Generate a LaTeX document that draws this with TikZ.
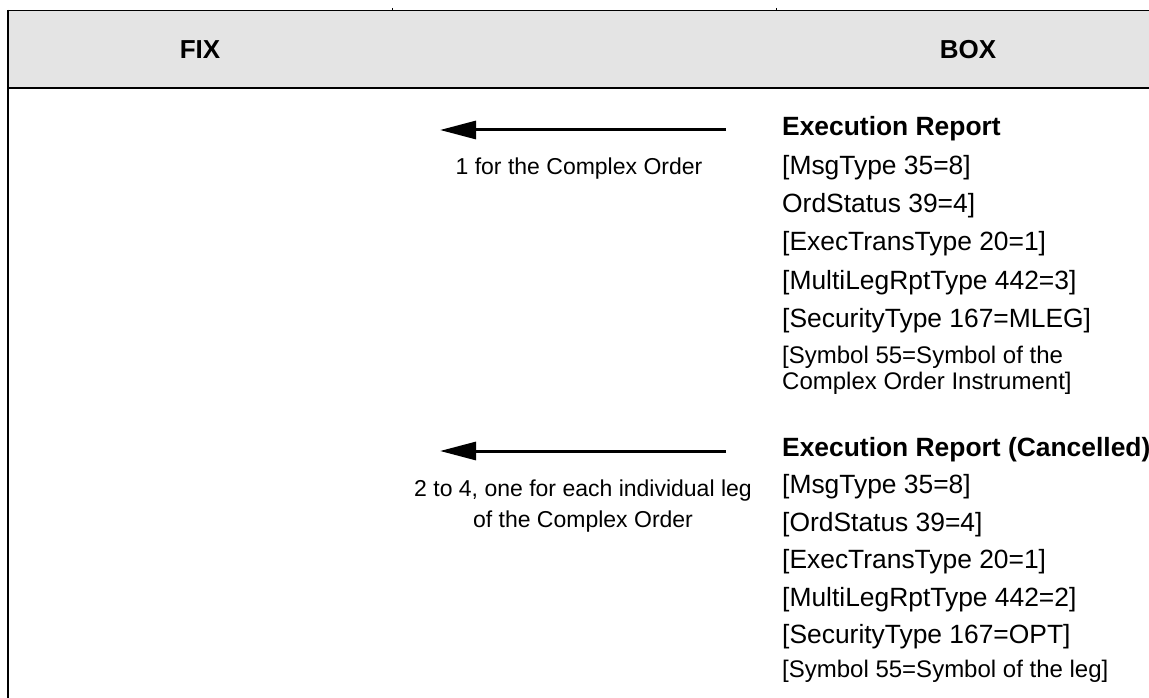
\documentclass[tikz,border=0pt]{standalone}
\usepackage{fontspec}
\setmainfont{Liberation Sans}
\usetikzlibrary{arrows.meta}
\definecolor{headgray}{HTML}{E4E4E4}

\tikzset{
  field/.style={anchor=base west, inner sep=0pt, font=\fontsize{26.4}{30}\selectfont},
  fieldsm/.style={field, font=\fontsize{24}{28}\selectfont},
  msgtitle/.style={field, font=\fontsize{26.4}{30}\selectfont\bfseries},
  colhead/.style={anchor=base, inner sep=0pt, font=\fontsize{26}{30}\selectfont\bfseries},
  note/.style={anchor=base, inner sep=0pt, font=\fontsize{23}{27}\selectfont},
  msgarrow/.style={line width=3pt, -{Triangle[length=36pt,width=18pt]}}
}

\begin{document}
\begin{tikzpicture}[x=1pt, y=-1pt]
  \useasboundingbox (0,0) rectangle (1149,698);
  \fill[headgray] (8,11) rectangle (1149,88);
  \draw[line width=1pt] (7,10.5) -- (1149,10.5);
  \draw[line width=2pt] (7,88) -- (1149,88);
  \draw[line width=2pt] (7.5,10) -- (7.5,698);
  \draw[line width=0.8pt] (392,8) -- (392,11) (776,8) -- (776,11);
  \node[colhead] (fix) at (200,59) {FIX};
  \node[colhead] (box) at (968,59) {BOX};

  \coordinate (from1) at (726,130); \coordinate (to1) at (440,130);
  \draw[msgarrow] (from1) -- (to1);
  \node[note] (lbl1) at (579,175) {1 for the Complex Order};
  \node[msgtitle] (er1) at (782,136) {Execution Report};
  \foreach \t [count=\i] in {{[MsgType 35=8]}, {OrdStatus 39=4]}, {[ExecTransType 20=1]},
      {[MultiLegRptType 442=3]}, {[SecurityType 167=MLEG]}}
    \node[field] (er1f\i) at (782,136+38.3*\i) {\t};
  \node[fieldsm] (er1s) at (782,363) {[Symbol 55=Symbol of the};
  \node[fieldsm] (er1t) at (782,389) {Complex Order Instrument]};

  \coordinate (from2) at (726,451); \coordinate (to2) at (440,451);
  \draw[msgarrow] (from2) -- (to2);
  \node[note] (lbl2a) at (583,496) {2 to 4, one for each individual leg};
  \node[note] (lbl2b) at (583,527) {of the Complex Order};
  \node[msgtitle] (er2) at (782,456) {Execution Report (Cancelled)};
  \foreach \t [count=\i] in {{[MsgType 35=8]}, {[OrdStatus 39=4]}, {[ExecTransType 20=1]},
      {[MultiLegRptType 442=2]}, {[SecurityType 167=OPT]}}
    \node[field] (er2f\i) at (782,456+37.5*\i) {\t};
  \node[fieldsm] (er2s) at (782,677) {[Symbol 55=Symbol of the leg]};
\end{tikzpicture}
\end{document}
